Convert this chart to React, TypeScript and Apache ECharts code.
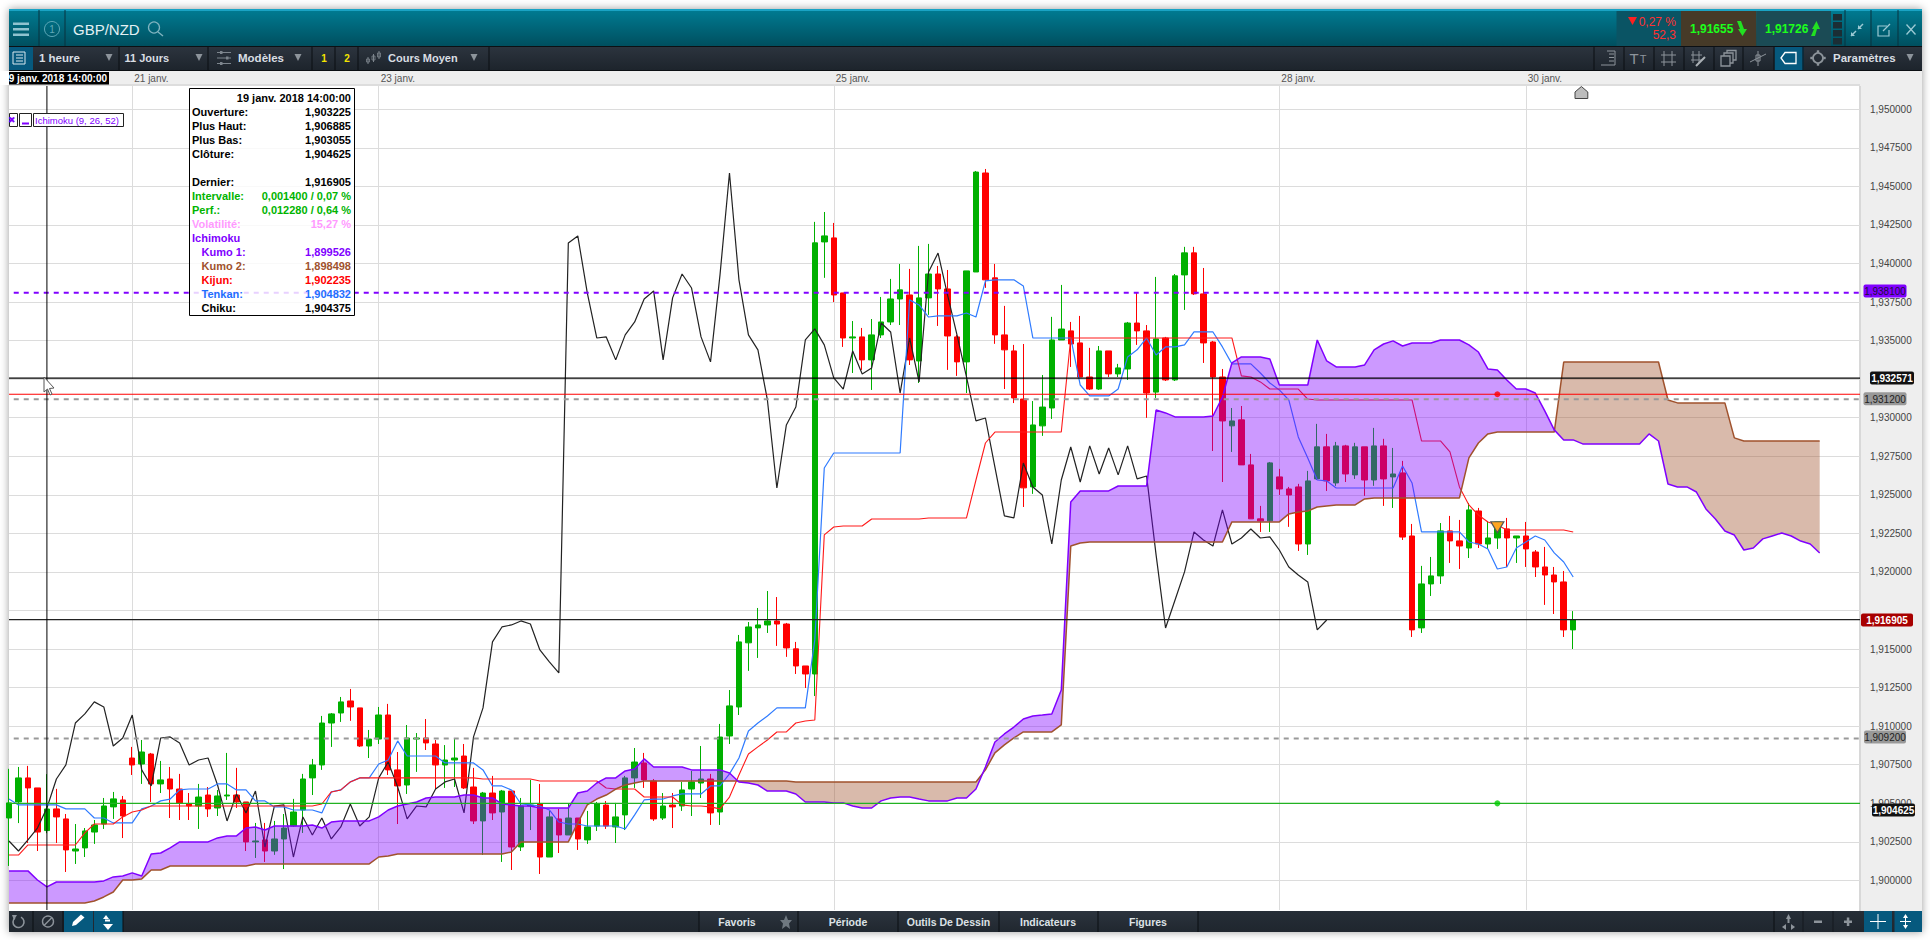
import React, { useEffect, useRef } from "react";
import * as echarts from "echarts";

const opens = [
1.90404,1.90508,1.90664,1.90599,1.903225,1.90463,1.90398,1.90190,1.90210,1.90313,
1.90365,1.90476,1.90521,1.90793,1.90754,1.90819,1.90625,1.90657,1.90592,1.90495,
1.90482,1.90553,1.90469,1.90547,1.90553,1.90508,1.90249,1.90262,1.90190,1.90268,
1.90352,1.90456,1.90664,1.90748,1.91020,1.91085,1.91163,1.91118,1.90871,1.90916,
1.91072,1.90716,1.90618,1.90916,1.90923,1.90884,1.90748,1.90780,1.90806,1.90605,
1.90385,1.90566,1.90443,1.90579,1.90216,1.90482,1.90495,1.90151,1.90398,1.90294,
1.90404,1.90262,1.90352,1.90488,1.90346,1.90424,1.90664,1.90761,1.90644,1.90404,
1.90488,1.90482,1.90592,1.90631,1.90657,1.90443,1.90936,1.91124,1.91540,1.91637,
1.91656,1.91682,1.91662,1.91501,1.91390,1.91338,1.94140,1.94166,1.93809,1.93517,
1.93524,1.93375,1.93537,1.93621,1.93770,1.93796,1.93368,1.93777,1.93932,1.93835,
1.93524,1.93362,1.93945,1.94587,1.93907,1.93537,1.93433,1.93121,1.92551,1.92947,
1.93063,1.93504,1.93563,1.93485,1.93264,1.93186,1.93433,1.93284,1.93316,1.93614,
1.93563,1.93166,1.93517,1.93245,1.93926,1.94069,1.93803,1.93491,1.93264,1.92947,
1.92986,1.92694,1.92344,1.92331,1.92616,1.92538,1.92551,1.92181,1.92603,1.92811,
1.92577,1.92817,1.92629,1.92811,1.92596,1.92817,1.92616,1.92642,1.92233,1.91637,
1.91922,1.91974,1.92266,1.92201,1.92155,1.92395,1.92181,1.92220,1.92279,1.92220,
1.92233,1.92129,1.92032,1.91980,1.91935,1.91624];
const closes = [
1.90502,1.90664,1.90599,1.90313,1.904625,1.90411,1.90197,1.90203,1.90320,1.90359,
1.90482,1.90528,1.90417,1.90748,1.90832,1.90625,1.90651,1.90592,1.90502,1.90482,
1.90540,1.90463,1.90547,1.90553,1.90508,1.90249,1.90255,1.90190,1.90268,1.90339,
1.90443,1.90657,1.90748,1.91020,1.91079,1.91157,1.91124,1.90871,1.90916,1.91072,
1.90716,1.90612,1.90923,1.90923,1.90891,1.90748,1.90780,1.90793,1.90599,1.90385,
1.90566,1.90437,1.90579,1.90216,1.90482,1.90488,1.90151,1.90411,1.90294,1.90404,
1.90268,1.90346,1.90495,1.90352,1.90411,1.90664,1.90767,1.90651,1.90398,1.90482,
1.90476,1.90586,1.90638,1.90657,1.90437,1.90929,1.91131,1.91546,1.91643,1.91656,
1.91682,1.91662,1.91507,1.91390,1.91338,1.94134,1.94179,1.93796,1.93517,1.93524,
1.93375,1.93537,1.93621,1.93770,1.93829,1.93375,1.93777,1.93932,1.93835,1.93530,
1.93362,1.93952,1.94593,1.93894,1.93537,1.93440,1.93128,1.92545,1.92953,1.93069,
1.93504,1.93575,1.93478,1.93264,1.93186,1.93433,1.93284,1.93323,1.93614,1.93563,
1.93160,1.93511,1.93245,1.93920,1.94069,1.93803,1.93485,1.93264,1.92979,1.92979,
1.92694,1.92344,1.92331,1.92707,1.92538,1.92499,1.92181,1.92590,1.92811,1.92590,
1.92817,1.92635,1.92811,1.92596,1.92817,1.92603,1.92635,1.92226,1.91624,1.91922,
1.91974,1.92266,1.92201,1.92168,1.92402,1.92181,1.92220,1.92324,1.92220,1.92233,
1.92149,1.92032,1.91980,1.91935,1.91624,1.916905];
const lows = [
1.90093,1.90371,1.90242,1.90190,1.903055,1.90242,1.90054,1.90106,1.90151,1.90236,
1.90333,1.90398,1.90274,1.90683,1.90625,1.90508,1.90566,1.90404,1.90391,1.90391,
1.90333,1.90411,1.90417,1.90521,1.90469,1.90190,1.90145,1.90119,1.90165,1.90073,
1.90346,1.90307,1.90553,1.90716,1.90865,1.91027,1.91034,1.90865,1.90793,1.90884,
1.90683,1.90365,1.90560,1.90703,1.90845,1.90592,1.90599,1.90605,1.90592,1.90365,
1.90165,1.90391,1.90119,1.90067,1.90190,1.90326,1.90041,1.90151,1.90177,1.90294,
1.90197,1.90236,1.90320,1.90333,1.90242,1.90326,1.90599,1.90599,1.90385,1.90391,
1.90339,1.90450,1.90417,1.90534,1.90359,1.90359,1.90884,1.91072,1.91358,1.91442,
1.91604,1.91520,1.91449,1.91338,1.91247,1.91195,1.93907,1.93750,1.93459,1.93290,
1.93310,1.93180,1.93517,1.93601,1.93601,1.93342,1.93225,1.93667,1.93595,1.93310,
1.93271,1.93160,1.93945,1.93842,1.93479,1.93186,1.93095,1.92421,1.92506,1.92882,
1.92992,1.93504,1.93329,1.93264,1.93180,1.93180,1.93264,1.93264,1.93245,1.93472,
1.92999,1.93128,1.93238,1.93238,1.93699,1.93796,1.93355,1.92784,1.92583,1.92778,
1.92694,1.92344,1.92259,1.92259,1.92499,1.92292,1.92136,1.92110,1.92596,1.92525,
1.92558,1.92583,1.92603,1.92493,1.92558,1.92428,1.92415,1.92207,1.91578,1.91604,
1.91844,1.91922,1.92058,1.92019,1.92090,1.92155,1.92149,1.92149,1.92032,1.92058,
1.92032,1.91967,1.91786,1.91727,1.91578,1.91500];
const highs = [
1.90723,1.90735,1.90742,1.90599,1.906885,1.90593,1.90430,1.90365,1.90339,1.90391,
1.90534,1.90573,1.90547,1.90865,1.90910,1.90826,1.90774,1.90735,1.90690,1.90566,
1.90625,1.90605,1.90586,1.90826,1.90729,1.90508,1.90372,1.90372,1.90385,1.90430,
1.90528,1.90690,1.90787,1.91066,1.91085,1.91189,1.91241,1.91118,1.90975,1.91124,
1.91144,1.90832,1.91007,1.90955,1.91046,1.90910,1.90877,1.90916,1.90884,1.90729,
1.90573,1.90677,1.90586,1.90579,1.90534,1.90651,1.90625,1.90450,1.90463,1.90495,
1.90404,1.90450,1.90508,1.90514,1.90502,1.90677,1.90858,1.90826,1.90657,1.90566,
1.90566,1.90638,1.90709,1.90871,1.90690,1.91014,1.91234,1.91591,1.91675,1.91766,
1.91876,1.91837,1.91669,1.91546,1.91390,1.94270,1.94334,1.94263,1.93809,1.93627,
1.93582,1.93640,1.93783,1.93900,1.93997,1.93965,1.94114,1.94127,1.93984,1.93958,
1.93537,1.93952,1.94600,1.94613,1.93997,1.93725,1.93472,1.93478,1.93108,1.93277,
1.93654,1.93861,1.93621,1.93660,1.93453,1.93465,1.93433,1.93349,1.93621,1.93809,
1.93601,1.93913,1.93524,1.93932,1.94108,1.94108,1.93971,1.93498,1.93316,1.93063,
1.93076,1.92765,1.92428,1.92713,1.92668,1.92551,1.92571,1.92655,1.92960,1.92895,
1.92843,1.92824,1.92837,1.92811,1.92934,1.92863,1.92804,1.92720,1.92311,1.92039,
1.92097,1.92317,1.92363,1.92337,1.92447,1.92415,1.92330,1.92324,1.92350,1.92233,
1.92324,1.92142,1.92162,1.92032,1.92006,1.91746];

const tenkan = [
1.90527,1.90489,1.90489,1.90489,1.90489,1.90489,1.90463,1.90463,1.90463,1.90404,
1.90404,1.90372,1.90372,1.90372,1.90463,1.90482,1.90515,1.90527,1.90586,1.90592,
1.90592,1.90592,1.90625,1.90625,1.90586,1.90586,1.90515,1.90515,1.90476,1.90476,
1.90456,1.90456,1.90456,1.90437,1.90573,1.90586,1.90638,1.90664,1.90664,1.90754,
1.90780,1.90904,1.90806,1.90806,1.90806,1.90806,1.90761,1.90761,1.90761,1.90761,
1.90716,1.90612,1.90612,1.90586,1.90495,1.90489,1.90482,1.90456,1.90378,1.90365,
1.90365,1.90352,1.90352,1.90352,1.90352,1.90333,1.90424,1.90521,1.90527,1.90527,
1.90547,1.90560,1.90560,1.90560,1.90612,1.90612,1.90690,1.90793,1.90968,1.91020,
1.91066,1.91118,1.91118,1.91118,1.91118,1.91559,1.92674,1.92771,1.92771,1.92771,
1.92771,1.92771,1.92771,1.92771,1.92771,1.93764,1.93731,1.93653,1.93660,1.93660,
1.93660,1.93679,1.93653,1.93887,1.93894,1.93894,1.93894,1.93854,1.93517,1.93517,
1.93517,1.93517,1.93517,1.93212,1.93141,1.93141,1.93141,1.93186,1.93394,1.93440,
1.93517,1.93407,1.93459,1.93459,1.93472,1.93556,1.93556,1.93556,1.93459,1.93349,
1.93349,1.93349,1.93290,1.93225,1.93180,1.93115,1.92875,1.92739,1.92596,1.92590,
1.92544,1.92544,1.92544,1.92544,1.92544,1.92544,1.92544,1.92687,1.92577,1.92259,
1.92259,1.92259,1.92259,1.92259,1.92194,1.92181,1.92149,1.92019,1.92032,1.92155,
1.92194,1.92233,1.92207,1.92123,1.92064,1.91967];
const kijun = [
1.90164,1.90164,1.90229,1.90229,1.90229,1.90229,1.90229,1.90229,1.90307,1.90365,
1.90365,1.90365,1.90411,1.90443,1.90456,1.90482,1.90482,1.90482,1.90482,1.90482,
1.90482,1.90482,1.90482,1.90482,1.90482,1.90482,1.90482,1.90482,1.90482,1.90482,
1.90482,1.90482,1.90482,1.90495,1.90573,1.90586,1.90638,1.90664,1.90664,1.90664,
1.90664,1.90664,1.90664,1.90664,1.90664,1.90664,1.90664,1.90664,1.90664,1.90664,
1.90657,1.90657,1.90657,1.90657,1.90657,1.90657,1.90644,1.90644,1.90644,1.90644,
1.90644,1.90644,1.90644,1.90599,1.90592,1.90592,1.90592,1.90540,1.90540,1.90540,
1.90540,1.90489,1.90482,1.90482,1.90476,1.90463,1.90540,1.90683,1.90819,1.90865,
1.90910,1.90962,1.90962,1.91020,1.91033,1.91040,1.92240,1.92291,1.92298,1.92298,
1.92298,1.92343,1.92343,1.92343,1.92343,1.92343,1.92343,1.92350,1.92350,1.92350,
1.92350,1.92350,1.92596,1.92836,1.92907,1.92907,1.92907,1.92907,1.92907,1.92907,
1.92907,1.92907,1.93517,1.93517,1.93517,1.93517,1.93517,1.93517,1.93517,1.93517,
1.93517,1.93517,1.93517,1.93517,1.93517,1.93517,1.93517,1.93517,1.93517,1.93517,
1.93271,1.93264,1.93232,1.93186,1.93186,1.93186,1.93186,1.93121,1.93115,1.93115,
1.93115,1.93115,1.93115,1.93115,1.93115,1.93115,1.93115,1.93115,1.93115,1.92849,
1.92849,1.92849,1.92778,1.92551,1.92434,1.92369,1.92324,1.92304,1.92272,1.92272,
1.92272,1.92272,1.92272,1.92272,1.92272,1.92259];
const chiku = [
1.90255,1.90190,1.90262,1.90339,1.90469,1.90657,1.90748,1.91020,1.91079,1.91157,
1.91124,1.90871,1.90923,1.91072,1.90716,1.90612,1.90923,1.90930,1.90891,1.90748,
1.90780,1.90793,1.90618,1.90385,1.90560,1.90437,1.90579,1.90216,1.90482,1.90489,
1.90151,1.90411,1.90294,1.90404,1.90268,1.90346,1.90495,1.90352,1.90411,1.90664,
1.90767,1.90605,1.90398,1.90482,1.90476,1.90592,1.90638,1.90657,1.90437,1.90930,
1.91118,1.91546,1.91643,1.91656,1.91682,1.91662,1.91494,1.91416,1.91345,1.94133,
1.94179,1.93809,1.93517,1.93524,1.93375,1.93537,1.93621,1.93770,1.93822,1.93375,
1.93777,1.93932,1.93841,1.93524,1.93362,1.93926,1.94587,1.93894,1.93537,1.93440,
1.93115,1.92544,1.92953,1.93069,1.93504,1.93576,1.93472,1.93258,1.93186,1.93433,
1.93284,1.93323,1.93614,1.93556,1.93160,1.93517,1.93232,1.93945,1.94068,1.93796,
1.93537,1.93264,1.92979,1.92998,1.92680,1.92363,1.92350,1.92706,1.92551,1.92499,
1.92181,1.92596,1.92810,1.92583,1.92817,1.92635,1.92804,1.92629,1.92817,1.92603,
1.92622,1.92110,1.91636,1.91818,1.92000,1.92259,1.92207,1.92168,1.92402,1.92181,
1.92220,1.92278,1.92220,1.92227,1.92142,1.92032,1.91980,1.91935,1.91624,1.91688];
const kumo1 = [
1.90061,1.90061,1.90061,1.90002,1.89957,1.89989,1.89989,1.89989,1.89989,1.89989,
1.89996,1.90022,1.90028,1.90048,1.90028,1.90171,1.90177,1.90210,1.90249,1.90249,
1.90249,1.90249,1.90275,1.90288,1.90288,1.90339,1.90346,1.90326,1.90352,1.90352,
1.90352,1.90352,1.90359,1.90339,1.90378,1.90385,1.90385,1.90385,1.90385,1.90411,
1.90456,1.90482,1.90495,1.90508,1.90534,1.90540,1.90540,1.90540,1.90553,1.90553,
1.90534,1.90534,1.90495,1.90489,1.90482,1.90482,1.90469,1.90469,1.90469,1.90469,
1.90566,1.90579,1.90631,1.90664,1.90664,1.90709,1.90722,1.90787,1.90735,1.90735,
1.90735,1.90735,1.90716,1.90716,1.90716,1.90716,1.90696,1.90638,1.90631,1.90618,
1.90579,1.90579,1.90579,1.90560,1.90508,1.90508,1.90508,1.90502,1.90502,1.90482,
1.90469,1.90469,1.90515,1.90534,1.90540,1.90540,1.90527,1.90515,1.90515,1.90515,
1.90534,1.90534,1.90592,1.90735,1.90897,1.90949,1.90994,1.91046,1.91066,1.91072,
1.91079,1.91234,1.92454,1.92525,1.92525,1.92525,1.92525,1.92557,1.92557,1.92557,
1.92557,1.93050,1.93031,1.93005,1.93005,1.93005,1.93005,1.93011,1.93134,1.93355,
1.93394,1.93394,1.93394,1.93381,1.93212,1.93212,1.93212,1.93212,1.93504,1.93368,
1.93329,1.93329,1.93329,1.93342,1.93440,1.93478,1.93498,1.93465,1.93485,1.93485,
1.93485,1.93504,1.93504,1.93504,1.93472,1.93426,1.93316,1.93310,1.93245,1.93186,
1.93186,1.93160,1.93044,1.92921,1.92856,1.92856,1.92830,1.92830,1.92830,1.92830,
1.92830,1.92830,1.92830,1.92895,1.92849,1.92570,1.92551,1.92551,1.92518,1.92408,
1.92343,1.92265,1.92239,1.92142,1.92155,1.92214,1.92233,1.92252,1.92233,1.92200,
1.92181,1.92123];
const kumo2 = [
1.89853,1.89853,1.89853,1.89853,1.89853,1.89853,1.89853,1.89853,1.89853,1.89866,
1.89892,1.89924,1.90002,1.90002,1.90009,1.90067,1.90067,1.90093,1.90093,1.90093,
1.90093,1.90093,1.90093,1.90093,1.90093,1.90093,1.90106,1.90106,1.90106,1.90106,
1.90106,1.90106,1.90106,1.90106,1.90106,1.90106,1.90106,1.90106,1.90106,1.90151,
1.90158,1.90171,1.90171,1.90171,1.90171,1.90171,1.90171,1.90171,1.90171,1.90171,
1.90171,1.90171,1.90171,1.90184,1.90249,1.90249,1.90249,1.90249,1.90249,1.90249,
1.90372,1.90489,1.90527,1.90553,1.90592,1.90618,1.90631,1.90644,1.90644,1.90644,
1.90644,1.90644,1.90644,1.90644,1.90644,1.90644,1.90644,1.90644,1.90644,1.90644,
1.90644,1.90644,1.90644,1.90638,1.90638,1.90638,1.90638,1.90638,1.90638,1.90638,
1.90638,1.90638,1.90638,1.90638,1.90638,1.90638,1.90638,1.90638,1.90638,1.90638,
1.90638,1.90638,1.90638,1.90716,1.90826,1.90878,1.90923,1.90962,1.90962,1.90962,
1.90962,1.91008,1.92168,1.92187,1.92194,1.92194,1.92194,1.92194,1.92194,1.92194,
1.92194,1.92194,1.92194,1.92194,1.92194,1.92194,1.92194,1.92194,1.92194,1.92324,
1.92324,1.92324,1.92324,1.92324,1.92324,1.92376,1.92389,1.92395,1.92421,1.92428,
1.92434,1.92434,1.92434,1.92473,1.92480,1.92480,1.92480,1.92480,1.92480,1.92480,
1.92480,1.92480,1.92480,1.92480,1.92739,1.92836,1.92895,1.92907,1.92907,1.92907,
1.92907,1.92907,1.92907,1.92907,1.93361,1.93361,1.93361,1.93361,1.93361,1.93361,
1.93361,1.93361,1.93361,1.93361,1.93361,1.93115,1.93096,1.93096,1.93096,1.93096,
1.93096,1.93096,1.92869,1.92849,1.92849,1.92849,1.92849,1.92849,1.92849,1.92849,
1.92849,1.92849];

const yTicks = [1.95,1.9475,1.945,1.9425,1.94,1.9375,1.935,1.9325,1.93,1.9275,1.925,1.9225,1.92,1.9175,1.915,1.9125,1.91,1.9075,1.905,1.9025,1.9];
const yLabelTicks = [1.95,1.9475,1.945,1.9425,1.94,1.9375,1.935,1.9325,1.93,1.9275,1.925,1.9225,1.92,1.915,1.9125,1.91,1.9075,1.905,1.9025,1.9];
const dateTicks = [13, 39, 87, 134, 160];
const dateLabels = ["21 janv.", "23 janv.", "25 janv.", "28 janv.", "30 janv."];
const crosshairIndex = [4];
const dashedPurple = [1.9381];
const crosshairLevel = [1.932571];
const redLevel = [1.93152];
const dashedGray = [1.9312, 1.9092];
const lastLevel = [1.916905];
const greenLevel = [1.90499];
const alertPoints = [[157, 1.93152], [157, 1.90499]];
const orderPoint = [[157, 1.9229]];
const tooltipRows: [string, string, string, number][] = [
  ["Ouverture:", "1,903225", "#000", 0],
  ["Plus Haut:", "1,906885", "#000", 0],
  ["Plus Bas:", "1,903055", "#000", 0],
  ["Clôture:", "1,904625", "#000", 0],
  ["", "", "#000", 0],
  ["Dernier:", "1,916905", "#000", 0],
  ["Intervalle:", "0,001400 / 0,07 %", "#00B400", 0],
  ["Perf.:", "0,012280 / 0,64 %", "#00B400", 0],
  ["Volatilité:", "15,27 %", "#FF99FF", 0],
  ["Ichimoku", "", "#8000FF", 0],
  ["Kumo 1:", "1,899526", "#8000FF", 1],
  ["Kumo 2:", "1,898498", "#A0522D", 1],
  ["Kijun:", "1,902235", "#FF0000", 1],
  ["Tenkan:", "1,904832", "#1E6EFF", 1],
  ["Chiku:", "1,904375", "#000", 1],
];

const FONT = '"Liberation Sans", Arial, sans-serif';
const LEFT = 9, TOP = 86, RIGHT = 1860, BOTTOM = 910;
const STEP = 9.48;
const X_MAX = (RIGHT - LEFT) / STEP;
const Y_MIN = 1.898074, Y_MAX = 1.951511;
const PURPLE = "#8000FF", BROWN = "#A0522D";

const rect = (x: number, y: number, width: number, height: number, fill: any, z = 50, extra: any = {}) => ({
  type: "rect", shape: { x, y, width, height }, style: { fill, ...extra }, z, silent: true,
});
const seg = (x1: number, y1: number, x2: number, y2: number, stroke: string, lineWidth = 1, z = 55) => ({
  type: "line", shape: { x1, y1, x2, y2 }, style: { stroke, lineWidth }, z, silent: true,
});
const txt = (text: string, x: number, y: number, fill: string, font: string, align = "left", z = 60) => ({
  type: "text", x, y, z, silent: true,
  style: { text, fill, font: `${font} ${FONT}`, align, verticalAlign: "middle", textAlign: align, textVerticalAlign: "middle" },
});
const poly = (points: number[][], fill: string, stroke = "none", lineWidth = 1, z = 56) => ({
  type: "polygon", shape: { points }, style: { fill, stroke, lineWidth }, z, silent: true,
});
const pline = (points: number[][], stroke: string, lineWidth = 1, z = 56) => ({
  type: "polyline", shape: { points }, style: { stroke, lineWidth, fill: "none" }, z, silent: true,
});
const circ = (cx: number, cy: number, r: number, stroke: string, fill = "none", lineWidth = 1, z = 56) => ({
  type: "circle", shape: { cx, cy, r }, style: { stroke, fill, lineWidth }, z, silent: true,
});
const grad = (a: string, b: string) => new echarts.graphic.LinearGradient(0, 0, 0, 1, [{ offset: 0, color: a }, { offset: 1, color: b }]);

function tri(x: number, y: number, c = "#8d949b") {
  return poly([[x - 3.5, y - 3], [x + 3.5, y - 3], [x, y + 4]], c);
}

function buildChrome(): any[] {
  const g: any[] = [];
  // frame and backgrounds (behind the axes)
  g.push(rect(9, 9, 1913, 923, "#fff", -3, { shadowBlur: 9, shadowColor: "rgba(0,0,0,0.4)" }));
  g.push(rect(9, 71, 1913, 15, "#EEEEEE", -2));
  g.push(rect(9, 84, 1851, 2, "#DDDDDD", -2));
  g.push(rect(RIGHT, 86, 62, 825, "#EEEEEE", -2));
  g.push(rect(RIGHT - 1, 86, 2, 825, "#D8D8D8", -2));

  // header
  g.push(rect(9, 9, 1913, 37, grad("#007C93", "#004F5F"), 50));
  g.push(rect(9, 9, 1913, 2, "#1AA3C4", 51));
  g.push(seg(9, 46.5, 1922, 46.5, "#0c1014", 1));
  [23.5, 29, 34.5].forEach((y) => g.push(rect(13, y - 1, 16, 2.5, "#8FC3CF", 56)));
  g.push(seg(39, 10, 39, 46, "#08333e"), seg(65, 10, 65, 46, "#08333e"));
  g.push(circ(52, 29, 7.5, "#5FA9B8"), txt("1", 52, 29, "#5FA9B8", "10px", "center"));
  g.push(txt("GBP/NZD", 73, 29, "#E4F1F4", "15px"));
  g.push(circ(154, 27.5, 5.5, "#7FB3BF", "none", 1.3), seg(158, 32, 163, 36, "#7FB3BF", 1.5));

  g.push(rect(1616.5, 11, 64.5, 35, "#0A5464", 52));
  g.push(rect(1681, 11, 75.5, 35, "#463A28", 52));
  g.push(rect(1756.5, 11, 74.5, 35, "#1B4B55", 52));
  g.push(poly([[1628, 17], [1637, 17], [1632.5, 25]], "#FF2020"));
  g.push(txt("0,27 %", 1676, 22, "#FF3030", "12px", "right"));
  g.push(txt("52,3", 1676, 35, "#FF3030", "12px", "right"));
  g.push(txt("1,91655", 1690, 29, "#1CFF1C", "bold 12px"));
  g.push(poly([[1737, 21], [1741, 21], [1744, 29], [1747, 29], [1742.5, 36], [1738, 29], [1740, 29]], "#22E022"));
  g.push(txt("1,91726", 1765, 29, "#1CFF1C", "bold 12px"));
  g.push(poly([[1811, 36], [1815, 36], [1817, 29], [1820, 29], [1816.5, 21], [1812, 29], [1814, 29]], "#22E022"));
  [14, 22, 30, 38].forEach((y) => g.push(rect(1833, y, 9, 6.5, "#1B2E35", 56)));
  [1845, 1871, 1898].forEach((x) => g.push(seg(x, 10, x, 46, "#08333e")));
  g.push(pline([[1851, 36], [1856, 31]], "#9CCAD4", 1.5), pline([[1858, 29], [1863, 24]], "#9CCAD4", 1.5));
  g.push(poly([[1851, 36], [1851, 32], [1855, 36]], "#9CCAD4"), poly([[1858, 29], [1858, 25], [1862, 29]], "#9CCAD4"));
  g.push(pline([[1887, 26], [1878, 26], [1878, 36], [1889, 36], [1889, 30]], "#9CCAD4", 1.2), pline([[1883, 31], [1890, 24]], "#9CCAD4", 1.2));
  g.push(seg(1906.5, 24.5, 1915.5, 34.5, "#9CCAD4", 1.3), seg(1915.5, 24.5, 1906.5, 34.5, "#9CCAD4", 1.3));

  // toolbar
  g.push(rect(9, 47, 1913, 23, grad("#2C343E", "#1D242C"), 50));
  g.push(seg(9, 70.5, 1922, 70.5, "#0b0e12", 1));
  g.push(rect(9, 47, 24, 23, "#06597E", 52));
  g.push(rect(13, 52, 12, 12, "none", 56, { stroke: "#D8E8EE", lineWidth: 1 }));
  [55, 58, 61].forEach((y) => g.push(seg(16, y, 23, y, "#D8E8EE")));
  const W = "#D9DEE3";
  g.push(txt("1 heure", 39, 58, W, "bold 11.5px"), tri(109, 57));
  g.push(txt("11 Jours", 124.5, 58, W, "bold 11px"), tri(199, 57));
  g.push(txt("Modèles", 238, 58, W, "bold 11.5px"), tri(298, 57));
  g.push(txt("1", 324, 58, "#F4E400", "bold 10px", "center"), txt("2", 347, 58, "#F4E400", "bold 10px", "center"));
  g.push(txt("Cours Moyen", 388, 58, W, "bold 11px"), tri(474, 57));
  [119, 208, 312, 335, 358, 489].forEach((x) => g.push(seg(x, 47, x, 70, "#0b0e12")));
  [52.5, 58, 63.5].forEach((y, k) => {
    g.push(seg(217, y, 231, y, "#7d858d"));
    g.push(rect(k === 1 ? 226 : 220, y - 1.5, 2.5, 3, "#7d858d", 56));
  });
  [[368, 57, 64], [373.5, 54, 62], [379, 51, 59]].forEach(([x, a, b]) => {
    g.push(seg(x, a, x, b, "#7d858d"));
    g.push(rect(x - 1.5, a + 2, 3, b - a - 4, "none", 56, { stroke: "#7d858d", lineWidth: 0.8 }));
  });
  // toolbar right
  [1594, 1624, 1654, 1684, 1714, 1743, 1774, 1803].forEach((x) => g.push(seg(x, 47, x, 70, "#0b0e12")));
  g.push(rect(1774.5, 47, 29, 23, "#06597E", 52));
  const I = "#8d949b";
  g.push(pline([[1601, 65], [1615, 65], [1615, 51], [1607, 51]], I));
  [54, 57.5, 61].forEach((y) => g.push(seg(1609, y, 1614, y, I)));
  g.push(txt("T", 1634, 58, I, "15px", "center"), txt("T", 1643, 59, I, "11px", "center"));
  g.push(seg(1664, 51, 1664, 66, I), seg(1672, 51, 1672, 66, I), seg(1661, 55, 1676, 55, I), seg(1661, 62, 1676, 62, I));
  g.push(seg(1693, 51, 1693, 63, I), seg(1699, 51, 1699, 63, I), seg(1691, 55, 1702, 55, I), seg(1691, 60, 1702, 60, I), seg(1696, 66, 1705, 57, "#aab0b5", 2));
  g.push(rect(1721, 56, 9, 10, "none", 56, { stroke: I, lineWidth: 1.3 }));
  g.push(pline([[1724, 56], [1724, 53], [1733, 53], [1733, 63], [1730, 63]], I, 1.3));
  g.push(pline([[1727, 53], [1727, 50.5], [1736, 50.5], [1736, 60], [1733, 60]], I, 1.3));
  g.push(seg(1758, 51, 1758, 66, I), rect(1756, 55, 4, 6, "none", 56, { stroke: I, lineWidth: 1 }), seg(1750, 62, 1766, 54, I));
  g.push(poly([[1781, 58], [1785, 52.5], [1796, 52.5], [1796, 63.5], [1785, 63.5]], "none", "#fff", 1.3));
  g.push(circ(1818, 58, 5, I, "none", 1.8));
  [[1818, 51.5], [1818, 64.5], [1811.5, 58], [1824.5, 58]].forEach(([x, y]) => g.push(rect(x - 1.2, y - 1.2, 2.4, 2.4, I, 56)));
  g.push(txt("Paramètres", 1833, 58, W, "bold 11.5px"), tri(1910, 57));

  // bottom bar
  g.push(rect(9, 911, 1913, 21, grad("#262E37", "#1F262E"), 50));
  g.push(rect(699, 911, 499, 21, grad("#2C343E", "#20272F"), 51));
  g.push(rect(64, 911, 29, 21, "#06597E", 52), rect(94, 911, 29, 21, "#06597E", 52));
  g.push(rect(1864, 911, 28, 21, "#06597E", 52), rect(1894.5, 911, 27.5, 21, "#06597E", 52));
  [33, 63, 123, 699, 798, 898, 999, 1098, 1198, 1774].forEach((x) => g.push(seg(x, 911, x, 932, "#0b0e12")));
  [1803, 1833].forEach((x) => g.push(seg(x, 911, x, 932, "#14191f")));
  g.push({ type: "arc", shape: { cx: 18.5, cy: 922, r: 5.5, startAngle: -1.1, endAngle: 4.0, clockwise: true }, style: { stroke: I, lineWidth: 1.6, fill: "none" }, z: 56, silent: true });
  g.push(poly([[12, 915], [17, 915], [14, 920]], I));
  g.push(circ(48, 921.5, 5.5, I, "none", 1.4), seg(44, 925.5, 52, 917.5, I, 1.4));
  g.push(poly([[72, 926], [73, 922], [81, 914.5], [84.5, 917.5], [76, 925]], "#fff"));
  g.push(poly([[103, 919], [109, 919], [106, 915]], "#fff"), poly([[103, 924], [113, 924], [108, 930]], "#fff"));
  g.push(rect(105, 919.5, 5, 2, "#fff", 56));
  const B = "#DDE2E6";
  g.push(txt("Favoris", 737, 921.5, B, "bold 10.5px", "center"));
  g.push(poly([[786, 915], [788, 920], [792, 920], [789, 923.5], [790, 929], [786, 926], [782, 929], [783, 923.5], [780, 920], [784, 920]], "#6f7880"));
  g.push(txt("Période", 848, 921.5, B, "bold 10.5px", "center"));
  g.push(txt("Outils De Dessin", 948.5, 921.5, B, "bold 10.5px", "center"));
  g.push(txt("Indicateurs", 1048, 921.5, B, "bold 10.5px", "center"));
  g.push(txt("Figures", 1148, 921.5, B, "bold 10.5px", "center"));
  g.push(poly([[1788.5, 914], [1791, 919], [1786, 919]], I), seg(1788.5, 919, 1788.5, 923, I, 2), poly([[1782, 927], [1786, 924], [1786, 930]], I), poly([[1795, 927], [1791, 924], [1791, 930]], I));
  g.push(rect(1814, 920.5, 8, 2.5, I, 56));
  g.push(rect(1844, 920.5, 8, 2.5, I, 56), rect(1846.8, 917.5, 2.5, 8.5, I, 56));
  g.push(seg(1870, 921.5, 1886, 921.5, "#fff"), seg(1878, 914, 1878, 929, "#fff"));
  g.push(poly([[1905.5, 914], [1908, 918], [1903, 918]], "#fff"), poly([[1905.5, 929], [1908, 925], [1903, 925]], "#fff"), seg(1905.5, 918, 1905.5, 925, "#fff"), seg(1900, 921.5, 1911, 921.5, "#fff"));

  // crosshair date flag
  g.push(rect(9, 72, 100, 12.5, "#000", 70));
  g.push(txt("19 janv. 2018 14:00:00", 107, 78.3, "#fff", "bold 10px", "right", 71));
  g.push(rect(0, 71, 9, 14, "#fff", 72));

  // marker on the top edge
  g.push(poly([[1575, 98.5], [1575, 92], [1581.4, 86.5], [1587.8, 92], [1587.8, 98.5]], "#BDBDBD", "#444", 1, 70));

  // tooltip
  g.push(rect(189.5, 88.5, 165, 227, "rgba(255,255,255,0.82)", 70, { stroke: "#000", lineWidth: 1 }));
  g.push(txt("19 janv. 2018 14:00:00", 351, 98, "#000", "bold 11px", "right", 71));
  tooltipRows.forEach((r, k) => {
    const y = 112 + k * 14;
    if (r[0]) g.push(txt(r[0], r[3] ? 201.6 : 192, y, r[2], "bold 11px", "left", 71));
    if (r[1]) g.push(txt(r[1], 351, y, r[2], "bold 11px", "right", 71));
  });

  // indicator legend
  g.push(rect(9.5, 113.5, 8, 13, "#fff", 70, { stroke: "#222", lineWidth: 1 }));
  g.push(txt("✖", 11.5, 120, PURPLE, "9px", "center", 71));
  g.push(rect(19.5, 113.5, 12, 13, "#fff", 70, { stroke: "#222", lineWidth: 1 }));
  g.push(rect(22, 122.5, 7, 2, PURPLE, 71));
  g.push(rect(33.5, 113.5, 90, 13, "#fff", 70, { stroke: "#222", lineWidth: 1 }));
  g.push(txt("Ichimoku (9, 26, 52)", 35, 120, PURPLE, "9.5px", "left", 71));

  // price flags
  const flag = (s: string, x: number, w: number, y: number, bg: string, fg: string, font: string) => {
    g.push({ type: "rect", shape: { x, y: y - 6.5, width: w, height: 13, r: 2 }, style: { fill: bg }, z: 70, silent: true });
    g.push(txt(s, x + w / 2, y + 0.5, fg, font, "center", 71));
  };
  flag("1,938100", 1863.5, 43, 291, PURPLE, "#20103a", "10px");
  flag("1,932571", 1870, 44, 378, "#111", "#fff", "bold 10px");
  flag("1,931200", 1863.5, 43, 398.7, "#999", "#222", "10px");
  flag("1,916905", 1861, 52, 620, "#A80000", "#fff", "bold 10px");
  flag("1,909200", 1864, 42, 737, "#999", "#222", "10px");
  flag("1,904625", 1872, 43, 810, "#111", "#fff", "bold 10px");

  // mouse cursor
  g.push(poly([[44, 377], [44, 392], [47.5, 389], [50, 395], [52, 394], [49.5, 388.5], [54, 388]], "#fff", "#555", 1, 72));
  return g;
}

function cloudSegments() {
  // split the cloud wherever the two spans cross
  const out: { up: boolean; a: number[][]; b: number[][] }[] = [];
  let cur = { up: kumo1[0] >= kumo2[0], a: [[0, kumo1[0]]], b: [[0, kumo2[0]]] };
  for (let i = 1; i < kumo1.length; i++) {
    const up = kumo1[i] >= kumo2[i];
    if (up !== cur.up) {
      const d0 = kumo1[i - 1] - kumo2[i - 1], d1 = kumo1[i] - kumo2[i];
      const t = d0 / (d0 - d1);
      const x = i - 1 + t, y = kumo1[i - 1] + (kumo1[i] - kumo1[i - 1]) * t;
      cur.a.push([x, y]); cur.b.push([x, y]);
      out.push(cur);
      cur = { up, a: [[x, y]], b: [[x, y]] };
    }
    cur.a.push([i, kumo1[i]]); cur.b.push([i, kumo2[i]]);
  }
  out.push(cur);
  return out;
}

const idx = (a: number[]) => a.map((v, i) => [i, v]);
const hline = (v: number, color: string, width: number, dashed: boolean, from = 0) => ({
  type: "line", data: [[from, v], [X_MAX, v]], symbol: "none", silent: true, z: 8,
  lineStyle: { color, width, type: dashed ? [5, 5] : "solid" },
});
const lineSeries = (data: number[][], color: string, width: number, z: number, name: string) => ({
  type: "line", name, data, symbol: "none", showSymbol: false, silent: true, z,
  lineStyle: { color, width },
});

export default function App() {
  const ref = useRef<HTMLDivElement>(null);
  useEffect(() => {
    const chart = echarts.init(ref.current!, undefined, { renderer: "svg" });
    const segments = cloudSegments();
    chart.setOption({
      animation: false,
      backgroundColor: "#fff",
      textStyle: { fontFamily: FONT },
      graphic: { elements: buildChrome() },
      grid: { left: LEFT, top: TOP, width: RIGHT - LEFT, height: BOTTOM - TOP, containLabel: false },
      xAxis: {
        type: "value", position: "top", min: 0, max: X_MAX, z: 1,
        axisLine: { show: false },
        axisTick: { show: false, customValues: dateTicks },
        splitLine: { show: true, lineStyle: { color: "#DCDCDC", width: 1 } },
        axisLabel: {
          customValues: dateTicks, align: "left", margin: 3, color: "#555", fontSize: 10, padding: [0, 0, 0, 2],
          formatter: (v: number) => dateLabels[dateTicks.indexOf(v)] ?? "",
        },
      },
      yAxis: {
        type: "value", position: "right", min: Y_MIN, max: Y_MAX, scale: true, z: 1,
        axisLine: { show: false },
        axisTick: { show: false, customValues: yTicks },
        splitLine: { show: true, lineStyle: { color: "#DCDCDC", width: 1 } },
        axisLabel: {
          customValues: yLabelTicks, margin: 10, color: "#444", fontSize: 10, padding: [3, 0, 0, 0],
          formatter: (v: number) => v.toFixed(6).replace(".", ","),
        },
      },
      series: [
        {
          type: "candlestick", name: "GBP/NZD", z: 3, barWidth: 6, silent: true,
          encode: { x: 0, y: [1, 2, 3, 4] },
          data: opens.map((o, i) => [i, o, closes[i], lows[i], highs[i]]),
          itemStyle: { color: "#00B000", color0: "#FF0000", borderColor: "#00B000", borderColor0: "#FF0000", borderWidth: 1 },
        },
        lineSeries(idx(chiku), "#222222", 1.2, 4, "Chiku"),
        lineSeries(idx(tenkan), "#2F7BFF", 1.2, 4, "Tenkan"),
        lineSeries(idx(kijun), "#FF1A1A", 1.1, 4, "Kijun"),
        {
          type: "custom", name: "Kumo", z: 5, silent: true, clip: true,
          data: segments.map((s, k) => [s.a[0][0], s.a[0][1], k]),
          encode: { x: 0, y: 1 },
          renderItem: (params: any, api: any) => {
            const s = segments[params.dataIndex];
            const pts = [...s.a, ...[...s.b].reverse()].map((p) => api.coord(p));
            return { type: "polygon", shape: { points: pts }, style: { fill: s.up ? "rgba(128,0,255,0.4)" : "rgba(160,82,45,0.4)", stroke: "none" } };
          },
        },
        lineSeries(idx(kumo2), BROWN, 1.5, 6, "Kumo 2"),
        lineSeries(idx(kumo1), PURPLE, 1.5, 6, "Kumo 1"),
        hline(dashedPurple[0], PURPLE, 2, true, 0.5),
        hline(dashedGray[0], "#999999", 2, true, 0.5),
        hline(dashedGray[1], "#999999", 2, true, 0.5),
        hline(crosshairLevel[0], "#000000", 1.2, false),
        hline(redLevel[0], "#FF0000", 1.2, false),
        hline(lastLevel[0], "#222222", 1.2, false),
        hline(greenLevel[0], "#22B222", 1.2, false),
        {
          type: "line", data: [[crosshairIndex[0], Y_MIN], [crosshairIndex[0], Y_MAX]], symbol: "none", silent: true, z: 8,
          lineStyle: { color: "#000", width: 1 },
        },
        {
          type: "scatter", z: 9, silent: true, symbol: "circle", symbolSize: 6,
          data: [
            { value: alertPoints[0], itemStyle: { color: "#FF0000" } },
            { value: alertPoints[1], itemStyle: { color: "#00CC00" } },
          ],
        },
        {
          type: "scatter", z: 10, silent: true, symbol: "path://M0 0 L12 0 L6 10 Z", symbolSize: [13, 11],
          data: orderPoint, itemStyle: { color: "#FFA520", borderColor: "#555", borderWidth: 1.2, opacity: 1 },
        },
      ],
    });
    return () => chart.dispose();
  }, []);
  return <div ref={ref} style={{ position: "fixed", left: 0, top: 0, width: 1930, height: 940 }} />;
}
